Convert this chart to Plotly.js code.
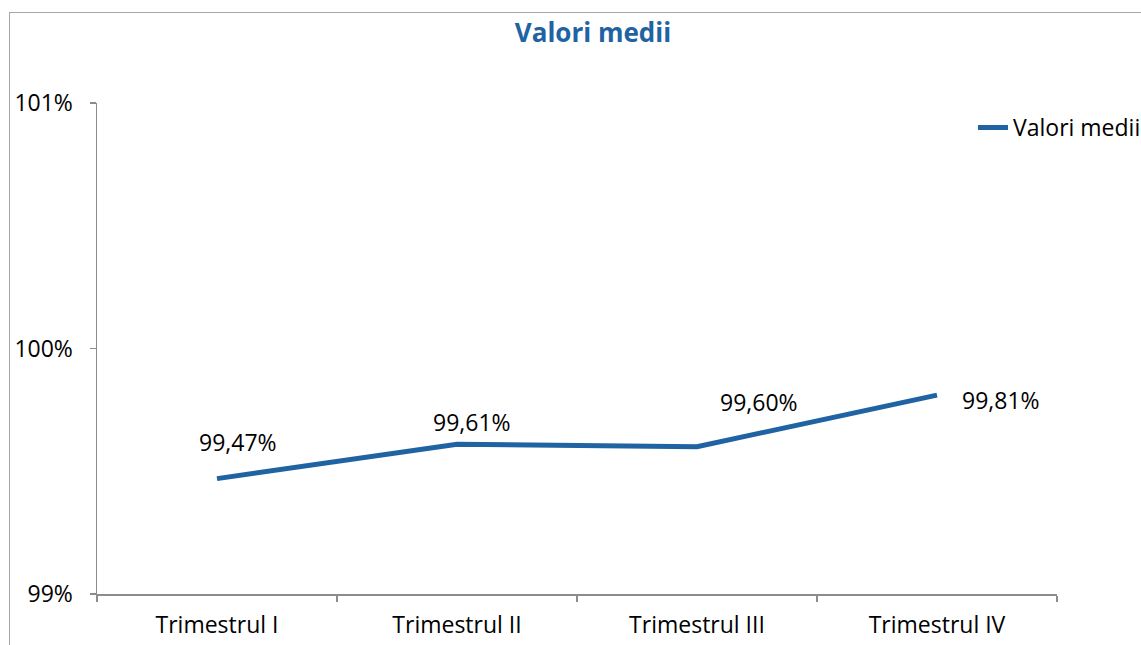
<!DOCTYPE html>
<html>
<head>
<meta charset="utf-8">
<script src="https://cdn.plot.ly/plotly-3.0.1.min.js"></script>
<style>
html,body{margin:0;padding:0;background:#fff;}
#wrap{position:relative;width:1141px;height:645px;overflow:hidden;}
#chart{width:1141px;height:645px;}
#frame{position:absolute;left:9px;top:12px;width:2000px;height:2000px;border-left:1.5px solid #a6a6a6;border-top:1.5px solid #a6a6a6;pointer-events:none;}
</style>
</head>
<body>
<div id="wrap"><div id="chart"></div><div id="frame"></div></div>
<script>
const categories = ["Trimestrul I", "Trimestrul II", "Trimestrul III", "Trimestrul IV"];
const values = [99.47, 99.61, 99.60, 99.81];
const yTickVals = [99, 100, 101];
const yTickText = ["99%", "100%", "101%"];
const seriesName = "Valori medii";
const chartTitle = "Valori medii";

const FONT = "Open Sans, sans-serif";
const color = "#1f63a3";
const labelOffsets = [[21, -37], [15, -22], [62, -45], [64, 5]];

const fmt = v => v.toFixed(2).replace(".", ",") + "%";

const trace = {
  x: categories, y: values, type: "scatter", mode: "lines",
  name: seriesName, line: {color: color, width: 5}
};

const annotations = categories.map((c, i) => ({
  x: c, y: values[i], xref: "x", yref: "y", text: fmt(values[i]),
  showarrow: false, xshift: labelOffsets[i][0], yshift: -labelOffsets[i][1],
  font: {family: FONT, size: 23, color: "#000"}
}));

const layout = {
  width: 1141, height: 645,
  margin: {l: 97, r: 84, t: 103, b: 51, autoexpand: false},
  paper_bgcolor: "#fff", plot_bgcolor: "#fff",
  title: {text: "<b>" + chartTitle + "</b>", x: 593/1141, xanchor: "center", y: 1 - 33/645, yanchor: "middle",
          font: {family: FONT, size: 26, color: "#1f63a3"}},
  showlegend: true,
  legend: {x: 0.9125, y: 0.95, xanchor: "left", yanchor: "middle", xref: "paper", yref: "paper",
           bgcolor: "rgba(0,0,0,0)", font: {family: FONT, size: 23, color: "#000"}},
  xaxis: {
    type: "category", range: [-0.5, 3.5], showgrid: false, zeroline: false,
    showline: true, linecolor: "#8c8c8c", linewidth: 1.5,
    ticks: "outside", tickson: "boundaries", ticklen: 6, tickcolor: "#8c8c8c", tickwidth: 1.5,
    ticklabelstandoff: 10,
    tickfont: {family: FONT, size: 23, color: "#000"}
  },
  yaxis: {
    range: [99, 101], tickvals: yTickVals, ticktext: yTickText, showgrid: false, zeroline: false,
    showline: true, linecolor: "#8c8c8c", linewidth: 1.5,
    ticks: "outside", ticklen: 6, tickcolor: "#8c8c8c", tickwidth: 1.5,
    ticklabelstandoff: 12,
    tickfont: {family: FONT, size: 23, color: "#000"}
  },
  annotations: annotations
};

Plotly.newPlot("chart", [trace], layout, {displayModeBar: false, staticPlot: true});
</script>
</body>
</html>
